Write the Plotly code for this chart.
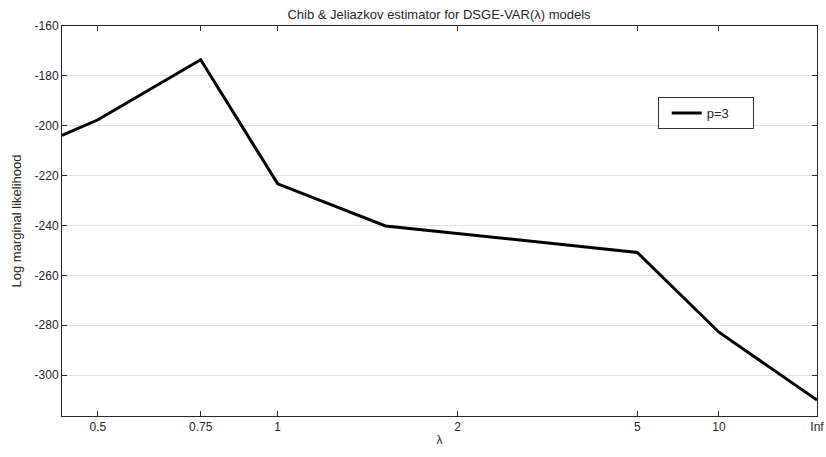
import numpy as np
import plotly.graph_objects as go

# Data (lambda values; inf plotted at the right edge)
lambdas = [3/7, 0.5, 0.75, 1.0, 1.5, 5.0, 10.0, np.inf]
log_ml = [-203.9, -197.6, -173.5, -223.3, -240.2, -250.8, -282.8, -310.0]
tick_lambdas = [0.5, 0.75, 1.0, 2.0, 5.0, 10.0, np.inf]
tick_labels = ["0.5", "0.75", "1", "2", "5", "10", "Inf"]
y_ticks = [-300, -280, -260, -240, -220, -200, -180, -160]
y_tick_labels = [str(v) for v in y_ticks]


def tr(l):
    return 1.0 if np.isinf(l) else l / (1.0 + l)


x = [tr(l) for l in lambdas]
xt = [tr(l) for l in tick_lambdas]

fig = go.Figure()
fig.add_trace(go.Scatter(x=x, y=log_ml, mode="lines", name="p=3" + "\u00a0" * 5,
                         line=dict(color="black", width=3)))

font = dict(family="Liberation Sans, Arial, sans-serif", size=12, color="#262626")

fig.update_layout(
    width=826, height=457,
    margin=dict(l=62, r=9, t=26, b=41, autoexpand=False),
    paper_bgcolor="white", plot_bgcolor="white",
    font=font,
    title=dict(text="Chib &amp; Jeliazkov estimator for DSGE-VAR(λ) models",
               x=0.5315, xanchor="center", y=0.968, yanchor="middle",
               font=dict(size=13, color="#262626")),
    showlegend=True,
    legend=dict(x=0.789, y=0.818, xanchor="left", yanchor="top",
                bordercolor="#333333", borderwidth=1, bgcolor="white",
                indentation=8,
                font=dict(size=13, color="#262626")),
)
fig.update_xaxes(range=[0.3, 1.0], tickvals=xt, ticktext=tick_labels,
                 showgrid=False, zeroline=False, automargin=False,
                 showline=True, linecolor="#262626", linewidth=1, mirror="ticks",
                 ticks="inside", ticklen=5, tickcolor="#262626",
                 title=dict(text="λ", standoff=2, font=dict(size=12)))
fig.update_yaxes(range=[-316.4, -160], tickvals=y_ticks, ticktext=y_tick_labels,
                 showgrid=True, gridcolor="#e0e0e0", gridwidth=1, zeroline=False,
                 automargin=False,
                 showline=True, linecolor="#262626", linewidth=1, mirror="ticks",
                 ticks="inside", ticklen=5, tickcolor="#262626",
                 title=dict(text="Log marginal likelihood", standoff=10, font=dict(size=13)))

fig.write_html("out.html", config={"displayModeBar": False},
               post_script="document.body.style.margin='0';document.body.style.overflow='hidden';")
